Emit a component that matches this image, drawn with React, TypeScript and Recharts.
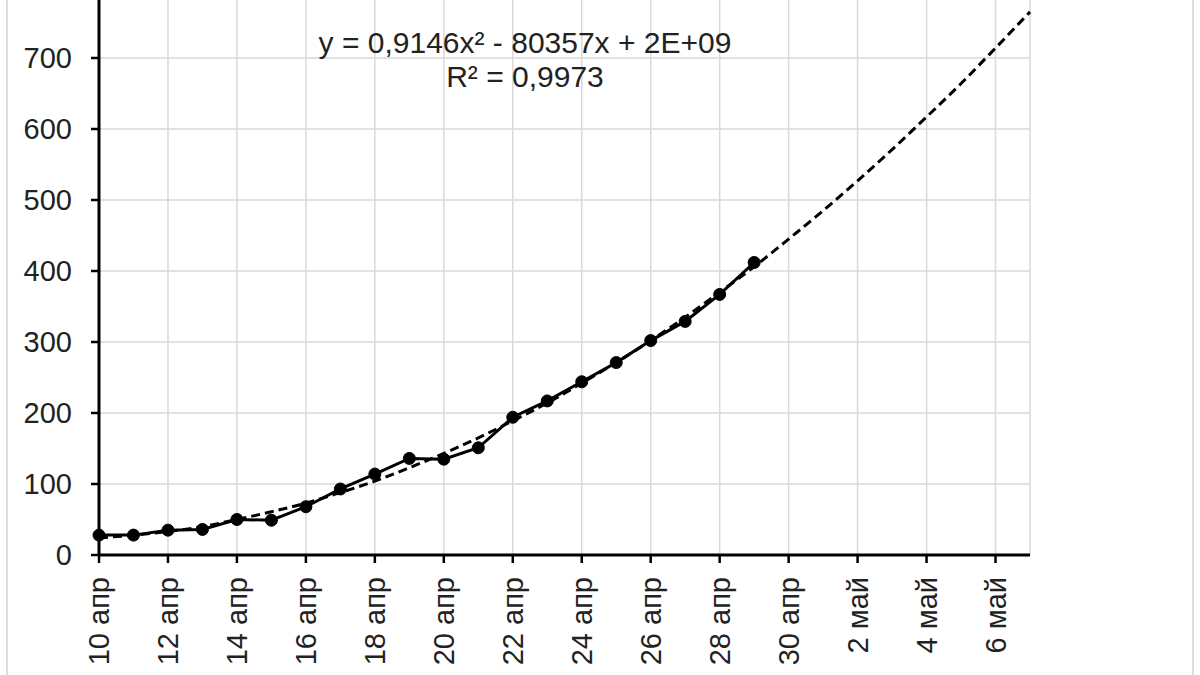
import { LineChart, Line, XAxis, YAxis, CartesianGrid } from "recharts";

// day index: 0 = 10 апр ... 27 = 7 май
const DAYS = [0, 1, 2, 3, 4, 5, 6, 7, 8, 9, 10, 11, 12, 13, 14, 15, 16, 17, 18, 19, 20, 21, 22, 23, 24, 25, 26, 27];
const TICK_DAYS = [0, 2, 4, 6, 8, 10, 12, 14, 16, 18, 20, 22, 24, 26];
const TICK_LABELS = [
  "10 апр", "12 апр", "14 апр", "16 апр", "18 апр", "20 апр", "22 апр",
  "24 апр", "26 апр", "28 апр", "30 апр", "2 май", "4 май", "6 май",
];
const Y_TICKS = [0, 100, 200, 300, 400, 500, 600, 700, 800];

// observed values, 10 апр – 29 апр
const ACTUAL = [28, 28, 35, 36, 50, 49, 68, 93, 114, 136, 135, 151, 194, 217, 244, 271, 302, 329, 367, 412];
// polynomial trend line (dashed), through 7 май
const TREND = [24, 28, 33, 40, 50, 61, 73, 88, 104, 123, 143, 165, 189, 214, 242, 271, 302, 335, 370, 406, 445, 485, 527, 571, 617, 664, 714, 765];

const rows = DAYS.map((t, i) => ({
  t,
  actual: i < ACTUAL.length ? ACTUAL[i] : null,
  trend: TREND[i],
}));

const FONT = "'Liberation Sans', Arial, sans-serif";
const TEXT = "#222";

function DateTick({ x, y, payload }: any) {
  const idx = TICK_DAYS.indexOf(payload.value);
  return (
    <text
      x={x}
      y={y}
      transform={`rotate(-90 ${x} ${y})`}
      textAnchor="end"
      dy="0.35em"
      fontSize={29}
      fontFamily={FONT}
      fill={TEXT}
    >
      {idx >= 0 ? TICK_LABELS[idx] : ""}
    </text>
  );
}

export default function App() {
  return (
    <div
      style={{
        position: "absolute", left: 0, top: 0, width: 1200, height: 675,
        overflow: "hidden", background: "#fff", fontFamily: FONT,
      }}
    >
      {/* chart-area frame, only the side edges show */}
      <div style={{ position: "absolute", left: 6, top: 0, width: 2, height: 675, background: "#dcdcdc" }} />
      <div style={{ position: "absolute", left: 1192, top: 0, width: 2, height: 675, background: "#dcdcdc" }} />

      <div style={{ position: "absolute", left: 0, top: -33 }}>
        <LineChart
          width={1200}
          height={708}
          data={rows}
          margin={{ top: 20, right: 170, bottom: 0, left: 0 }}
        >
          <CartesianGrid stroke="#d9d9d9" strokeWidth={1.5} />
          <XAxis
            type="number"
            dataKey="t"
            domain={[0, 27]}
            ticks={TICK_DAYS}
            interval={0}
            height={120}
            tickSize={8}
            tickMargin={14}
            axisLine={{ stroke: "#000", strokeWidth: 3 }}
            tickLine={{ stroke: "#000", strokeWidth: 2.5 }}
            tick={<DateTick />}
          />
          <YAxis
            type="number"
            domain={[0, 800]}
            ticks={Y_TICKS}
            interval={0}
            width={99}
            tickSize={8}
            tickMargin={19}
            axisLine={{ stroke: "#000", strokeWidth: 3 }}
            tickLine={{ stroke: "#000", strokeWidth: 2.5 }}
            tick={{ fontSize: 29, fontFamily: FONT, fill: TEXT }}
          />
          <Line
            type="linear"
            dataKey="actual"
            stroke="#000"
            strokeWidth={3}
            dot={{ r: 6, fill: "#000", stroke: "#000", strokeWidth: 1 }}
            connectNulls={false}
            isAnimationActive={false}
          />
          <Line
            type="monotone"
            dataKey="trend"
            stroke="#000"
            strokeWidth={3}
            strokeDasharray="9 5"
            dot={false}
            isAnimationActive={false}
          />
        </LineChart>
      </div>

      {/* trendline equation label */}
      <svg
        width={1200}
        height={675}
        style={{ position: "absolute", left: 0, top: 0, pointerEvents: "none" }}
      >
        <text x={525} y={53} textAnchor="middle" fontSize={30} fontFamily={FONT} fill={TEXT}>
          y = 0,9146x² - 80357x + 2E+09
        </text>
        <text x={525} y={87} textAnchor="middle" fontSize={30} fontFamily={FONT} fill={TEXT}>
          R² = 0,9973
        </text>
      </svg>
    </div>
  );
}
